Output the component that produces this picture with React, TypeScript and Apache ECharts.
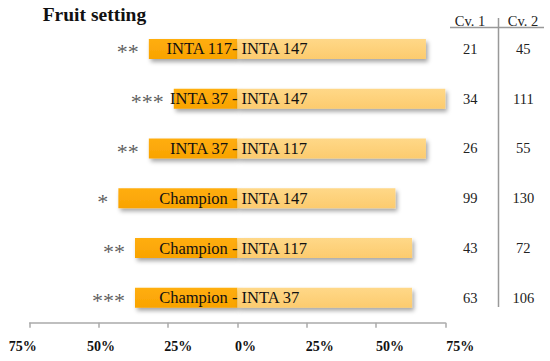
import React, { useEffect, useRef } from "react";
import * as echarts from "echarts";

const leftNames = ["INTA 117-", "INTA 37 -", "INTA 37 -", "Champion -", "Champion -", "Champion -"];
const rightNames = ["INTA 147", "INTA 147", "INTA 117", "INTA 147", "INTA 117", "INTA 37"];
const leftValues = [32, 23, 32, 43, 37, 37];
const rightValues = [68, 77, 68, 57, 63, 63];
const stars = ["**", "***", "**", "*", "**", "***"];
const cv1 = ["21", "34", "26", "99", "43", "63"];
const cv2 = ["45", "111", "55", "130", "72", "106"];
const xTicks = [-75, -50, -25, 0, 25, 50, 75];

const SERIF = "Liberation Serif";
// horizontal nudges of tick labels (px)
const tickNudge = [-7, 2, 10, 8, 13, 14, 15];

export default function App() {
  const ref = useRef<HTMLDivElement>(null);
  useEffect(() => {
    if (!ref.current) return;
    const chart = echarts.init(ref.current, undefined, { renderer: "svg" });
    const cats = leftNames.map((_, i) => String(i));
    const rich: Record<string, any> = {};
    xTicks.forEach((t, i) => {
      const d = tickNudge[i];
      rich["t" + i] = {
        fontFamily: SERIF,
        fontWeight: "bold",
        fontSize: 14,
        color: "#111",
        padding: d >= 0 ? [0, 0, 0, 2 * d] : [0, -2 * d, 0, 0],
      };
    });
    const nameRich = { n: { fontFamily: SERIF, fontSize: 16.5, color: "#111" } };
    const shadow = {
      shadowBlur: 4,
      shadowOffsetX: 2,
      shadowOffsetY: 3,
      shadowColor: "rgba(0,0,0,0.35)",
    };
    chart.setOption({
      animation: false,
      backgroundColor: "#fff",
      textStyle: { fontFamily: SERIF },
      grid: { left: 29.7, right: 104.7, top: 24, bottom: 38.3, containLabel: false },
      xAxis: {
        type: "value",
        min: -75,
        max: 75,
        interval: 25,
        splitLine: { show: false },
        axisLine: { show: true, lineStyle: { color: "#aaaaaa", width: 1.5 } },
        axisTick: { show: true, length: 5, lineStyle: { color: "#aaaaaa", width: 1.5 } },
        axisLabel: {
          margin: 17,
          formatter: (v: number) => {
            const i = xTicks.indexOf(v);
            return "{t" + i + "|" + Math.abs(v) + "%}";
          },
          rich,
        },
      },
      yAxis: [
        {
          type: "category",
          data: cats,
          inverse: true,
          axisLine: { show: false },
          axisTick: { show: false },
          axisLabel: { show: false },
        },
        {
          type: "category",
          data: cv1,
          inverse: true,
          position: "right",
          offset: 0,
          axisLine: { show: false },
          axisTick: { show: false },
          axisLabel: { margin: 25, align: "center", fontFamily: SERIF, fontSize: 14.5, color: "#222" },
        },
        {
          type: "category",
          data: cv2,
          inverse: true,
          position: "right",
          offset: 0,
          axisLine: { show: false },
          axisTick: { show: false },
          axisLabel: { margin: 78, align: "center", fontFamily: SERIF, fontSize: 14.5, color: "#222" },
        },
      ],
      series: [
        {
          type: "bar",
          stack: "a",
          barWidth: 20,
          data: leftValues.map((v) => -v),
          itemStyle: {
            color: new echarts.graphic.LinearGradient(0, 0, 0, 1, [
              { offset: 0, color: "#FFAE10" },
              { offset: 1, color: "#F9A300" },
            ]),
            ...shadow,
          },
          label: {
            show: true,
            position: "insideRight",
            distance: 0,
            formatter: (p: any) => "{n|" + leftNames[p.dataIndex] + "}",
            rich: nameRich,
            fontFamily: SERIF,
            fontSize: 16.5,
            color: "#111",
          },
        },
        {
          type: "bar",
          stack: "a",
          barWidth: 20,
          data: rightValues,
          itemStyle: {
            color: new echarts.graphic.LinearGradient(0, 0, 0, 1, [
              { offset: 0, color: "#FFD888" },
              { offset: 1, color: "#FCCB6E" },
            ]),
            ...shadow,
          },
          label: {
            show: true,
            position: "insideLeft",
            distance: 4,
            formatter: (p: any) => "{n|" + rightNames[p.dataIndex] + "}",
            rich: nameRich,
            fontFamily: SERIF,
            fontSize: 16.5,
            color: "#111",
          },
        },
        {
          type: "scatter",
          symbolSize: 0,
          data: leftValues.map((v, i) => [-v, i]),
          label: {
            show: true,
            position: "left",
            distance: 10,
            offset: [0, 3],
            formatter: (p: any) => stars[p.dataIndex],
            fontFamily: SERIF,
            fontSize: 22,
            color: "#333",
          },
          silent: true,
        },
      ],
      graphic: [
        {
          type: "text",
          left: 42.7,
          top: 4,
          style: { text: "Fruit setting", fontFamily: SERIF, fontWeight: "bold", fontSize: 19.5, fill: "#111" },
        },
        {
          type: "text",
          x: 470,
          y: 20.5,
          style: { text: "Cv. 1", fontFamily: SERIF, fontSize: 14.5, fill: "#222", align: "center", verticalAlign: "middle" },
        },
        {
          type: "text",
          x: 523,
          y: 20.5,
          style: { text: "Cv. 2", fontFamily: SERIF, fontSize: 14.5, fill: "#222", align: "center", verticalAlign: "middle" },
        },
        {
          type: "line",
          shape: { x1: 450, y1: 27.5, x2: 544, y2: 27.5 },
          style: { stroke: "#999", lineWidth: 1.5 },
        },
        {
          type: "line",
          shape: { x1: 498.5, y1: 18, x2: 498.5, y2: 307 },
          style: { stroke: "#999", lineWidth: 1.5 },
        },
      ],
    });
    return () => chart.dispose();
  }, []);
  return <div ref={ref} style={{ position: "fixed", left: 0, top: 0, width: 550, height: 361 }} />;
}
